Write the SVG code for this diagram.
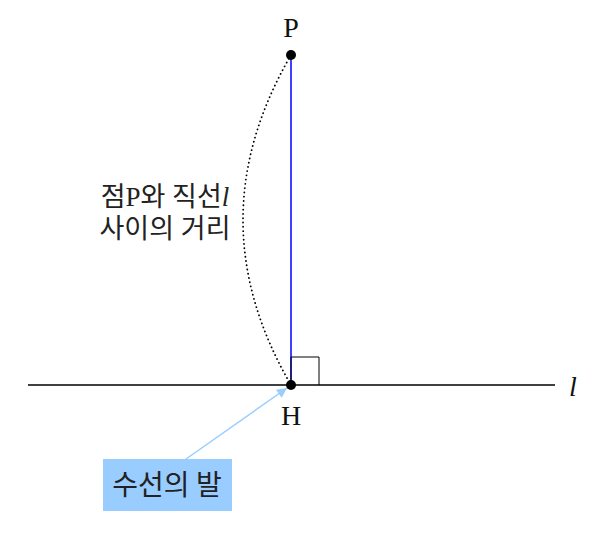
<svg xmlns="http://www.w3.org/2000/svg" width="600" height="535" viewBox="0 0 600 535">
<defs>
<style>
.serif{font-family:"Liberation Serif","DejaVu Serif",serif;font-size:28px;fill:#111}
.kr{font-family:"Liberation Serif","Noto Sans CJK KR",serif;font-size:27px;fill:#222}
.dot{fill:#000}
</style>
<marker id="ah" viewBox="0 0 10 10" refX="10" refY="5" markerWidth="11" markerHeight="10" orient="auto" markerUnits="userSpaceOnUse">
<path d="M0,0 L10,5 L0,10 z" fill="#99ccff"/>
</marker>
</defs>
<rect width="600" height="535" fill="#fff"/>
<g id="connectors">
<line x1="28" y1="385" x2="555" y2="385" stroke="#000" stroke-width="1.5"/>
<line x1="291" y1="55" x2="291" y2="385" stroke="#0000ff" stroke-width="1.5"/>
<path d="M291,385 V357 H319 V385" fill="none" stroke="#000" stroke-width="1"/>
<path d="M291,55 Q195,220 291,385" fill="none" stroke="#000" stroke-width="1.8" stroke-dasharray="0.1,4.2" stroke-linecap="round"/>
<line x1="186" y1="459" x2="287" y2="388" stroke="#99ccff" stroke-width="1.5" marker-end="url(#ah)"/>
</g>
<g id="P">
<circle class="dot" cx="291" cy="55" r="5"/>
<text class="serif" x="291" y="37" text-anchor="middle">P</text>
</g>
<g id="H">
<circle class="dot" cx="291" cy="385" r="5"/>
<text class="serif" x="291" y="425" text-anchor="middle">H</text>
</g>
<g id="line-label">
<text class="serif" x="573" y="396" font-style="italic" font-size="30" text-anchor="middle">l</text>
</g>
<g id="distance-label">
<text class="kr" x="165" y="206" text-anchor="middle">점P와 직선<tspan font-style="italic">l</tspan></text>
<text class="kr" x="165" y="238" text-anchor="middle">사이의 거리</text>
</g>
<g id="foot">
<rect x="103" y="459" width="129" height="52" fill="#99ccff"/>
<text x="167" y="495" text-anchor="middle" style="font-family:'Noto Sans CJK KR',sans-serif;font-size:28px;fill:#222">수선의 발</text>
</g>
</svg>
